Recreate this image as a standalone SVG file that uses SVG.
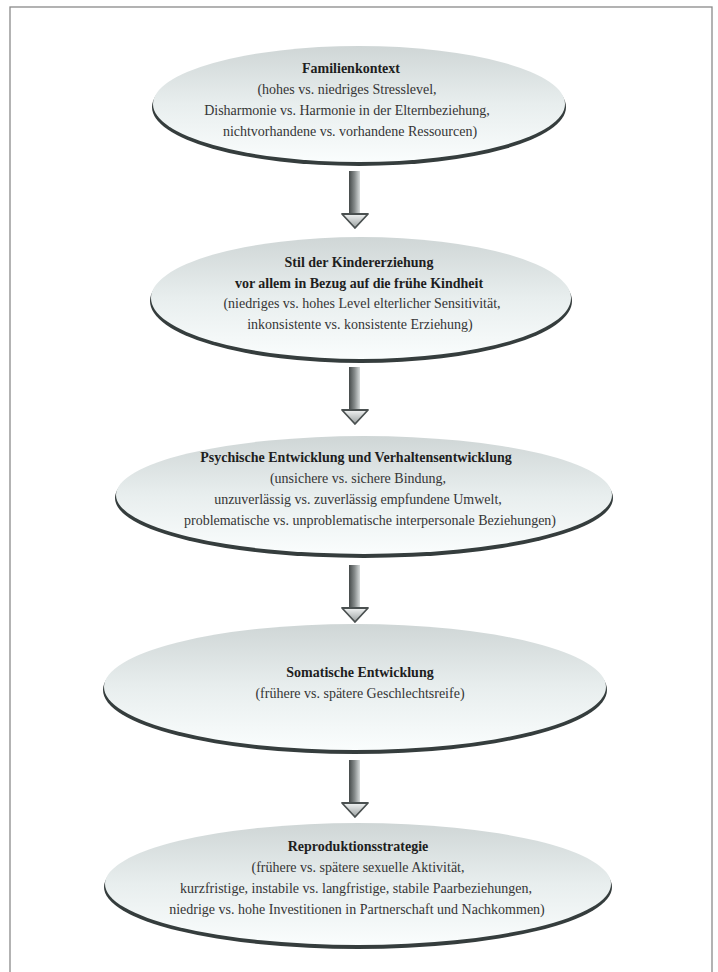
<svg xmlns="http://www.w3.org/2000/svg" width="718" height="972" viewBox="0 0 718 972">
<defs>
<linearGradient id="fillG" x1="0" y1="0" x2="0" y2="1">
<stop offset="0" stop-color="#cfd6d6"/>
<stop offset="0.5" stop-color="#e8eeee"/>
<stop offset="1" stop-color="#fafdfd"/>
</linearGradient>
<linearGradient id="shaftG" x1="0" y1="0" x2="1" y2="0">
<stop offset="0" stop-color="#454a4a"/>
<stop offset="0.5" stop-color="#858a8a"/>
<stop offset="1" stop-color="#d8dcdc"/>
</linearGradient>
<linearGradient id="headG" x1="0" y1="0" x2="0" y2="1">
<stop offset="0" stop-color="#f2f4f4"/>
<stop offset="1" stop-color="#9aa0a0"/>
</linearGradient>
<filter id="soft" x="-5%" y="-10%" width="110%" height="120%">
<feGaussianBlur stdDeviation="0.7"/>
</filter>
<g id="arrow">
<rect x="-6" y="0" width="11" height="44" fill="url(#shaftG)"/>
<polygon points="-13,43 13,43 0,57" fill="url(#headG)" stroke="#4a5050" stroke-width="1.8" stroke-linejoin="round"/>
</g>
</defs>
<style>
.shadow{fill:#353c3c;filter:url(#soft);}
.body{fill:url(#fillG);}
text{font-family:"Liberation Serif","Times New Roman",serif;font-size:14px;text-anchor:middle;fill:#353535;}
.t{font-weight:bold;fill:#1e1e1e;}
</style>
<rect x="10" y="7" width="702" height="990" fill="none" stroke="#8a8a8a" stroke-width="1.3"/>

<g id="connectors">
<use href="#arrow" x="355" y="171"/>
<use href="#arrow" x="355" y="367"/>
<use href="#arrow" x="355" y="565"/>
<use href="#arrow" x="355" y="760"/>
</g>

<g id="node1">
<ellipse class="shadow" cx="359" cy="107" rx="207" ry="59"/>
<ellipse class="body" cx="359" cy="104" rx="206" ry="58"/>
<text class="t" x="351" y="73">Familienkontext</text>
<text x="347" y="94">(hohes vs. niedriges Stresslevel,</text>
<text x="347" y="115">Disharmonie vs. Harmonie in der Elternbeziehung,</text>
<text x="350" y="136">nichtvorhandene vs. vorhandene Ressourcen)</text>
</g>

<g id="node2">
<ellipse class="shadow" cx="361" cy="301" rx="211" ry="62"/>
<ellipse class="body" cx="361" cy="298" rx="210" ry="61"/>
<text class="t" x="359" y="267">Stil der Kindererziehung</text>
<text class="t" x="359" y="288">vor allem in Bezug auf  die frühe Kindheit</text>
<text x="362" y="308">(niedriges vs. hohes Level elterlicher Sensitivität,</text>
<text x="360" y="329">inkonsistente vs. konsistente Erziehung)</text>
</g>

<g id="node3">
<ellipse class="shadow" cx="364" cy="498" rx="249" ry="60"/>
<ellipse class="body" cx="364" cy="495" rx="248" ry="59"/>
<text class="t" x="356" y="462">Psychische Entwicklung und Verhaltensentwicklung</text>
<text x="358" y="483">(unsichere vs. sichere Bindung,</text>
<text x="358" y="504">unzuverlässig vs. zuverlässig empfundene Umwelt,</text>
<text x="370" y="525">problematische vs. unproblematische interpersonale Beziehungen)</text>
</g>

<g id="node4">
<ellipse class="shadow" cx="355" cy="690" rx="252" ry="64"/>
<ellipse class="body" cx="355" cy="687" rx="251" ry="63"/>
<text class="t" x="360" y="677">Somatische Entwicklung</text>
<text x="360" y="698">(frühere vs. spätere Geschlechtsreife)</text>
</g>

<g id="node5">
<ellipse class="shadow" cx="358" cy="887" rx="254" ry="62"/>
<ellipse class="body" cx="358" cy="884" rx="253" ry="61"/>
<text class="t" x="358" y="851">Reproduktionsstrategie</text>
<text x="358" y="872">(frühere vs. spätere sexuelle Aktivität,</text>
<text x="356" y="893">kurzfristige, instabile vs. langfristige, stabile Paarbeziehungen,</text>
<text x="357" y="914">niedrige vs. hohe Investitionen in Partnerschaft und Nachkommen)</text>
</g>
</svg>
